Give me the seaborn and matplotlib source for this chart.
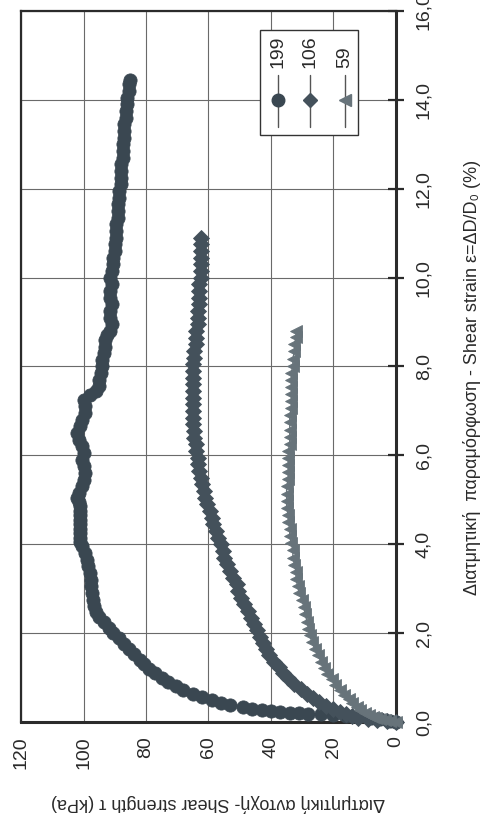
import matplotlib
matplotlib.use("Agg")
import matplotlib.pyplot as plt
from matplotlib.patches import Rectangle
from matplotlib.lines import Line2D
import seaborn as sns
import pandas as pd

# ---------------- data ----------------
series_names = ["199", "106", "59"]

strain_199 = [0.00, 0.03, 0.06, 0.09, 0.12, 0.14, 0.16, 0.18, 0.19, 0.20, 0.21, 0.22, 0.24, 0.27,
              0.30, 0.34, 0.38, 0.43, 0.49, 0.56, 0.63, 0.71, 0.80, 0.90, 1.00, 1.10, 1.20, 1.30,
              1.40, 1.52, 1.64, 1.76, 1.88, 2.00, 2.12, 2.24, 2.36, 2.48, 2.60, 2.75, 2.90, 3.05,
              3.20, 3.35, 3.50, 3.65, 3.80, 3.95, 4.05, 4.15, 4.25, 4.35, 4.45, 4.55, 4.65, 4.75,
              4.85, 4.95, 5.05, 5.15, 5.30, 5.45, 5.60, 5.75, 5.90, 6.05, 6.20, 6.35, 6.50, 6.65,
              6.80, 6.95, 7.10, 7.25, 7.35, 7.45, 7.55, 7.70, 7.85, 8.00, 8.15, 8.30, 8.45, 8.60,
              8.70, 8.80, 8.95, 9.10, 9.25, 9.40, 9.55, 9.70, 9.85, 10.00, 10.15, 10.30, 10.45,
              10.60, 10.75, 10.90, 11.05, 11.20, 11.35, 11.50, 11.65, 11.80, 11.95, 12.10, 12.25,
              12.40, 12.55, 12.70, 12.85, 13.00, 13.15, 13.30, 13.45, 13.60, 13.75, 13.90, 14.05,
              14.20, 14.35, 14.45]
stress_199 = [0, 2, 5, 8, 12, 16, 20, 24, 28, 31, 34, 37, 40, 43,
              46, 49, 53, 56, 59, 62, 65, 68, 70.5, 73, 75, 77, 79, 80.5,
              82, 84, 85.5, 87, 88.5, 90.5, 92, 93.5, 95, 96, 96.8, 97, 97.3, 97.5,
              97.5, 98, 98.5, 99, 99.5, 100.5, 101, 101.2, 101, 101, 101.2, 101, 101, 101.2,
              101, 101.5, 102, 101.5, 100.5, 100, 99.5, 100, 100.5, 100, 100.5, 101.5, 102, 101,
              100.5, 99.5, 99.5, 100, 98, 96, 95, 95, 94.5, 94, 94, 93.5, 93, 93,
              92.5, 91.5, 91, 91.5, 91.5, 91, 91.5, 91.5, 91, 91.5, 91, 90.5, 90.5,
              90, 90, 89.5, 89.5, 89.5, 89, 89, 89, 88.5, 88.5, 88, 88,
              88, 88, 87.5, 87.5, 87.5, 87, 87, 87, 86.5, 86.5, 86, 86,
              85.5, 85.5, 85]

strain_106 = [0.00, 0.02, 0.04, 0.07, 0.10, 0.14, 0.18, 0.23, 0.29, 0.36, 0.44, 0.53, 0.63, 0.74,
              0.86, 0.98, 1.10, 1.23, 1.36, 1.50, 1.64, 1.78, 1.92, 2.06, 2.20, 2.35, 2.50, 2.65,
              2.80, 2.95, 3.10, 3.25, 3.40, 3.55, 3.70, 3.85, 4.00, 4.15, 4.30, 4.45, 4.60, 4.75,
              4.90, 5.05, 5.20, 5.35, 5.50, 5.65, 5.80, 5.95, 6.10, 6.25, 6.40, 6.55, 6.70, 6.85,
              7.00, 7.15, 7.30, 7.45, 7.60, 7.75, 7.90, 8.05, 8.20, 8.35, 8.50, 8.65, 8.80, 8.95,
              9.10, 9.25, 9.40, 9.55, 9.70, 9.85, 10.00, 10.15, 10.30, 10.45, 10.60, 10.75, 10.90]
stress_106 = [0, 3, 6, 9, 12, 14, 16, 18, 20, 22.5, 24.5, 26.5, 28.5, 30.5,
              32.5, 34.5, 36, 37.5, 39, 40.5, 41.5, 42.5, 43.5, 44.5, 45.5, 46.5, 47.5, 48.5,
              49.5, 50.5, 51, 52, 53, 54, 55, 55.5, 56, 57, 57.5, 58.5, 59, 59.5,
              60.5, 61, 61.5, 62, 62.5, 63, 63.5, 63.5, 64, 64, 64.5, 64.5, 65, 65,
              65, 65, 65, 65, 65, 65, 65, 65, 64.5, 64.5, 64, 64, 64, 63.5,
              63.5, 63.5, 63, 63, 63, 63, 62.5, 62.5, 62.5, 62.5, 62.5, 62.5, 62.5]

strain_59 = [0.00, 0.02, 0.04, 0.06, 0.09, 0.12, 0.16, 0.21, 0.27, 0.34, 0.42, 0.51, 0.61, 0.72,
             0.84, 0.96, 1.09, 1.22, 1.36, 1.50, 1.65, 1.80, 1.95, 2.10, 2.26, 2.42, 2.58, 2.74,
             2.90, 3.06, 3.22, 3.38, 3.54, 3.70, 3.86, 4.02, 4.18, 4.34, 4.50, 4.66, 4.82, 4.98,
             5.14, 5.30, 5.46, 5.62, 5.78, 5.94, 6.10, 6.26, 6.42, 6.58, 6.74, 6.90, 7.06, 7.22,
             7.38, 7.54, 7.70, 7.86, 8.02, 8.18, 8.34, 8.50, 8.66, 8.80]
stress_59 = [0, 2, 3.5, 5, 6.5, 7.5, 8.5, 10, 11.5, 12.5, 14, 15, 16.5, 18,
             19.5, 20.5, 22, 23, 24, 25, 26, 27, 27.5, 28, 28.5, 29, 29.5, 30,
             31, 31.5, 32, 32, 32.5, 33, 33, 33.5, 34, 34, 34.5, 34.5, 35, 35,
             35, 35, 34.5, 34.5, 34.5, 34.5, 34.5, 34, 34, 34, 34, 34, 33.5, 33.5,
             33.5, 33.5, 33.5, 33.5, 33, 33, 32.5, 32.5, 32, 32]

strain_ticks = [0, 2, 4, 6, 8, 10, 12, 14, 16]
strain_ticklabels = ["0,0", "2,0", "4,0", "6,0", "8,0", "10,0", "12,0", "14,0", "16,0"]
stress_ticks = [0, 20, 40, 60, 80, 100, 120]
stress_ticklabels = ["0", "20", "40", "60", "80", "100", "120"]

xlabel_text = "Διατμητική αντοχή- Shear strength τ (kPa)"
ylabel_text = "Διατμητική  παραμόρφωση - Shear strain ε=ΔD/D₀ (%)"

# ---------------- styling ----------------
sns.set_style("white")
FONT = ["Liberation Sans Narrow", "Liberation Sans", "DejaVu Sans"]
plt.rcParams["font.family"] = FONT
TXT = "#2a2a2a"

colors = {"199": "#3a4751", "106": "#44515b", "59": "#67737a"}
markers = {"199": "o", "106": "D", "59": "<"}
msizes = {"199": 9.5, "106": 8.0, "59": 8.5}

fig = plt.figure(figsize=(4.85, 8.21), dpi=100)
ax = fig.add_axes([21 / 485, 1 - 722 / 821, 375 / 485, 711 / 821])

data = {
    "199": pd.DataFrame({"stress": stress_199, "strain": strain_199}),
    "106": pd.DataFrame({"stress": stress_106, "strain": strain_106}),
    "59": pd.DataFrame({"stress": stress_59, "strain": strain_59}),
}

for name in series_names:
    sns.lineplot(data=data[name], x="stress", y="strain", sort=False, estimator=None,
                 ax=ax, color=colors[name], linewidth=1.0, marker=markers[name],
                 markersize=msizes[name], markerfacecolor=colors[name],
                 markeredgecolor=colors[name], markeredgewidth=0.6,
                 clip_on=False, zorder=3, legend=False)

ax.set_xlim(120, 0)
ax.set_ylim(0, 16)

ax.grid(True, color="#6a6a6a", linewidth=0.8)
ax.set_axisbelow(True)
for sp in ax.spines.values():
    sp.set_visible(True)
    sp.set_color("#2b2b2b")
    sp.set_linewidth(1.6)
ax.spines["right"].set_linewidth(2.2)
ax.spines["bottom"].set_linewidth(2.2)

ax.set_xticks(stress_ticks)
ax.set_xticklabels(stress_ticklabels, rotation=90, fontsize=14, color=TXT, va="top", ha="center")
ax.yaxis.tick_right()
ax.set_yticks(strain_ticks)
ax.set_yticklabels(strain_ticklabels, rotation=90, fontsize=14, color=TXT, va="center", ha="left")
ax.tick_params(axis="x", direction="inout", length=8, width=1.6, color="#2b2b2b", pad=6)
ax.tick_params(axis="y", direction="inout", length=12, width=1.6, color="#2b2b2b", pad=8,
               left=False, right=True)

ax.set_xlabel(xlabel_text, fontsize=13, color=TXT, rotation=180)
ax.xaxis.label.set_ha("center")
ax.xaxis.label.set_va("center")
ax.xaxis.set_label_coords((218 - 21) / 375, (722 - 803) / 711)

ax.yaxis.set_label_position("right")
ax.set_ylabel(ylabel_text, fontsize=13, color=TXT, rotation=90)
ax.yaxis.label.set_ha("center")
ax.yaxis.label.set_va("center")
ax.yaxis.set_label_coords((472 - 21) / 375, (722 - 377) / 711)

# ---------------- legend (drawn rotated like the chart) ----------------
ax.add_patch(Rectangle((0.637, 0.826), 0.262, 0.147, transform=ax.transAxes,
                       facecolor="white", edgecolor="#333333", linewidth=1.0, zorder=5))
leg_x = {"199": 0.685, "106": 0.771, "59": 0.864}
for name in series_names:
    x = leg_x[name]
    ax.add_line(Line2D([x, x], [0.837, 0.91], transform=ax.transAxes, color="#555555",
                       linewidth=1.0, zorder=6))
    ax.add_line(Line2D([x], [0.875], transform=ax.transAxes, marker=markers[name],
                       markersize=msizes[name] * 0.95, color=colors[name],
                       markeredgecolor=colors[name], linestyle="none", zorder=7))
    ax.text(x, 0.92, name, transform=ax.transAxes, rotation=90, rotation_mode="anchor",
            ha="left", va="center", fontsize=14, color=TXT, zorder=7)

fig.savefig("out.png", dpi=100, facecolor="white")
